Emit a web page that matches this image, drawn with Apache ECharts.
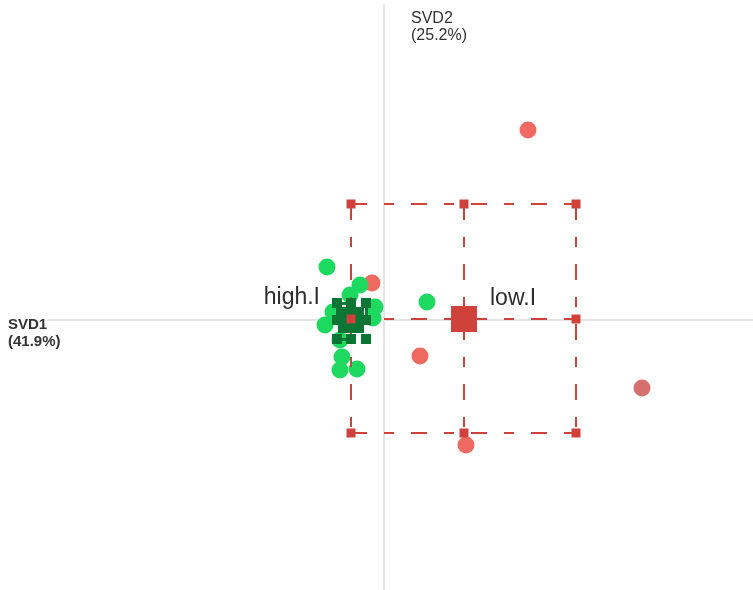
<!DOCTYPE html>
<html>
<head>
<meta charset="utf-8">
<script src="https://cdn.jsdelivr.net/npm/echarts@6/dist/echarts.min.js"></script>
<style>
  html, body { margin: 0; padding: 0; background: #ffffff; }
  #chart { width: 753px; height: 590px; }
</style>
</head>
<body>
<div id="chart"></div>
<script>
// Individuals on the first two singular-value dimensions
const highX = [-1.14, -0.48, -0.68, -0.18, -1.02, -1.18, -0.22, -0.88, -0.84, -0.88, -0.54, 0.86];
const highY = [1.06, 0.70, 0.50, 0.26, 0.16, -0.10, 0.04, -0.40, -0.74, -1.00, -0.98, 0.36];
const lowX = [2.88, -0.24, 0.72, 1.64, 5.16];
const lowY = [3.80, 0.74, -0.72, -2.50, -1.36];

// Group centres and the extent of each group's box
const groups = ['high.I', 'low.I'];
const centreX = [-0.66, 1.60];
const centreY = [0.00, 0.02];
const boxLeft = [-0.94, -0.66];
const boxRight = [-0.36, 3.84];
const boxBottom = [-0.38, -2.26];
const boxTop = [0.34, 2.32];

// Axis titles
const axisTitles = ['SVD1\n(41.9%)', 'SVD2\n(25.2%)'];

const RED = '#cf423c';
const RED_PT = '#ef6961';
const GREEN = '#1ed960';
const DARK_GREEN = '#0b7535';
const FONT = "'Liberation Sans', Arial, sans-serif";

const pairs = (xs, ys) => xs.map((x, i) => [x, ys[i]]);

// Corners and edge midpoints of a group's box
function boxPoints(g) {
  const l = boxLeft[g], r = boxRight[g], b = boxBottom[g], t = boxTop[g];
  const cx = centreX[g], cy = centreY[g];
  return [[l, t], [cx, t], [r, t], [r, cy], [r, b], [cx, b], [l, b], [l, cy]];
}

// Box outline plus the cross through the centre
function boxSegments(g) {
  const l = boxLeft[g], r = boxRight[g], b = boxBottom[g], t = boxTop[g];
  const cx = centreX[g], cy = centreY[g];
  const seg = (a, c) => [{ coord: a }, { coord: c }];
  return [
    seg([l, t], [r, t]), seg([r, t], [r, b]), seg([l, b], [r, b]), seg([l, t], [l, b]),
    seg([l, cy], [r, cy]), seg([cx, t], [cx, b])
  ];
}

function boxSeries(g, color, z, size, width) {
  return {
    type: 'scatter',
    data: boxPoints(g),
    symbol: 'rect',
    symbolSize: size,
    itemStyle: { color: color, opacity: 1 },
    z: z,
    silent: true,
    markLine: {
      silent: true,
      z: z,
      symbol: ['none', 'none'],
      label: { show: false },
      lineStyle: { color: color, width: width, type: [16, 17, 10, 17], opacity: 1 },
      emphasis: { disabled: true },
      data: boxSegments(g)
    }
  };
}

function centreSeries(g, color, z, labelPos, dist, dy) {
  return {
    type: 'scatter',
    data: [[centreX[g], centreY[g]]],
    symbol: 'rect',
    symbolSize: 26,
    itemStyle: { color: color, opacity: 1 },
    z: z,
    silent: true,
    label: {
      show: true,
      formatter: groups[g],
      position: labelPos,
      distance: dist,
      offset: [0, dy],
      color: '#2e2e2e',
      opacity: 1,
      fontFamily: FONT,
      fontSize: 23
    }
  };
}

const axisLine = { show: true, onZero: true, lineStyle: { color: '#e6e6e6', width: 2 } };

const option = {
  animation: false,
  backgroundColor: '#ffffff',
  grid: { left: 48, right: 0, top: 5, bottom: 0, containLabel: false },
  xAxis: {
    type: 'value', min: -6.72, max: 7.38,
    axisLine: axisLine, axisTick: { show: false }, axisLabel: { show: false }, splitLine: { show: false }
  },
  yAxis: {
    type: 'value', min: -5.4, max: 6.3,
    axisLine: axisLine, axisTick: { show: false }, axisLabel: { show: false }, splitLine: { show: false }
  },
  graphic: [
    {
      type: 'text', left: 8, top: 316, silent: true,
      style: { text: axisTitles[0], fill: '#333333', font: 'bold 15px ' + FONT, lineHeight: 17 }
    },
    {
      type: 'text', left: 411, top: 10, silent: true,
      style: { text: axisTitles[1], fill: '#333333', font: '16px ' + FONT, lineHeight: 17 }
    }
  ],
  series: [
    {
      type: 'scatter',
      data: pairs(lowX, lowY),
      symbolSize: 17,
      z: 1,
      silent: true,
      itemStyle: { opacity: 1, color: p => (p.dataIndex === 4 ? '#d6706e' : RED_PT) }
    },
    {
      type: 'scatter',
      data: pairs(highX, highY),
      symbolSize: 17,
      z: 2,
      silent: true,
      itemStyle: { color: GREEN, opacity: 1 }
    },
    // red box lines sit under the dark green box, its markers on top
    Object.assign(boxSeries(1, RED, 3, 9, 2), { data: [], z: 3 }),
    boxSeries(0, DARK_GREEN, 4, 10, 3),
    centreSeries(0, DARK_GREEN, 4, 'left', 18, -22),
    Object.assign(boxSeries(1, RED, 5, 9, 2), { markLine: undefined }),
    centreSeries(1, RED, 5, 'right', 13, -20)
  ]
};

const chart = echarts.init(document.getElementById('chart'), null, { renderer: 'canvas' });
chart.setOption(option);
</script>
</body>
</html>
